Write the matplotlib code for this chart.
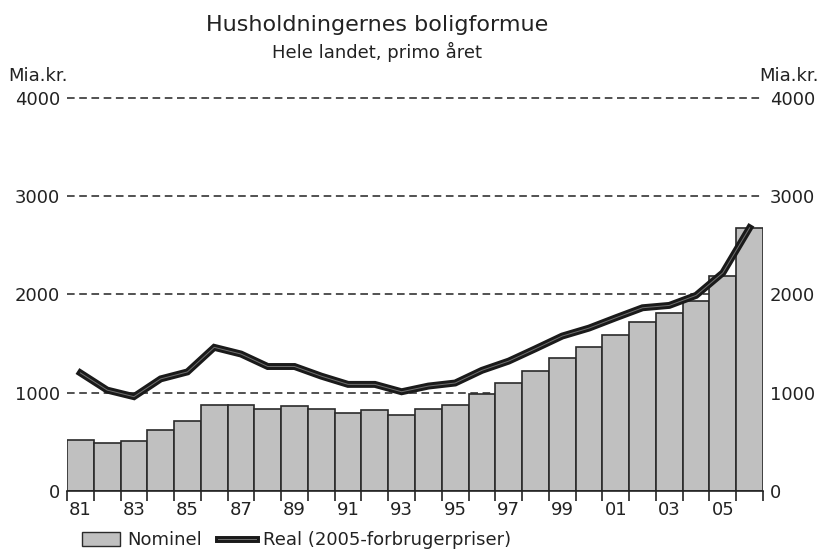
import matplotlib.pyplot as plt
from matplotlib.lines import Line2D
from matplotlib.patches import Patch
from matplotlib.legend_handler import HandlerTuple
import numpy as np

# Data (mia. kr., primo året)
years = list(range(1981, 2007))
nominel = [519, 489, 505, 623, 714, 879, 879, 838, 866, 838, 792, 822, 775,
           831, 878, 990, 1099, 1218, 1353, 1462, 1584, 1719, 1811, 1933,
           2190, 2679]
real = [1202, 1027, 960, 1141, 1212, 1462, 1394, 1267, 1267, 1169, 1085,
        1085, 1010, 1068, 1099, 1228, 1322, 1448, 1577, 1658, 1763, 1865,
        1889, 1991, 2221, 2679]
yticks = [0, 1000, 2000, 3000, 4000]

plt.rcParams['font.family'] = ['DejaVu Sans']
txt = '#222222'
fs = 13

fig = plt.figure(figsize=(8.23, 5.5), dpi=100)
ax = fig.add_axes([0.0814, 0.1073, 0.8457, 0.7145])

x = np.arange(len(years))
ax.bar(x, nominel, width=1.0, color='#c0c0c0', edgecolor='#2a2a2a',
       linewidth=1.2, zorder=2)
ax.plot(x, real, color='#1a1a1a', lw=5, solid_joinstyle='miter', zorder=3)
ax.plot(x, real, color='#707070', lw=0.7, zorder=4)

for v in yticks[1:]:
    ax.axhline(v, color='#222222', lw=1.1, ls=(0, (5, 3)), zorder=1,
               clip_on=False)

ax.set_xlim(-0.5, len(years) - 0.5)
ax.set_ylim(0, 4000)

for side in ['top', 'left', 'right']:
    ax.spines[side].set_visible(False)
ax.spines['bottom'].set_linewidth(1.2)
ax.spines['bottom'].set_color('#222222')

# tick marks at bar edges, labels at every other bar centre
ax.set_xticks(x[::2])
ax.set_xticklabels([f"{y % 100:02d}" for y in years[::2]], fontsize=fs,
                   color=txt)
ax.tick_params(axis='x', which='major', length=0, pad=7)
ax.set_xticks(np.arange(-0.5, len(years)), minor=True)
ax.tick_params(axis='x', which='minor', length=7, width=1.2, color='#222222')

ax.set_yticks(yticks)
ax.set_yticklabels([str(v) for v in yticks], fontsize=fs, color=txt)
ax.tick_params(axis='y', length=0, pad=5, labelright=True, right=False,
               labelcolor=txt)

fig.text(0.458, 0.955, 'Husholdningernes boligformue', ha='center',
         va='center', fontsize=16, color=txt)
fig.text(0.458, 0.905, 'Hele landet, primo året', ha='center', va='center',
         fontsize=13, color=txt)
fig.text(0.01, 0.862, 'Mia.kr.', ha='left', va='center', fontsize=fs,
         color=txt)
fig.text(0.995, 0.862, 'Mia.kr.', ha='right', va='center', fontsize=fs,
         color=txt)

h_bar = Patch(facecolor='#c0c0c0', edgecolor='#2a2a2a', linewidth=1.0)
h_line = (Line2D([], [], color='#1a1a1a', lw=5),
          Line2D([], [], color='#707070', lw=0.7))
leg = fig.legend([h_bar, h_line], ['Nominel', 'Real (2005-forbrugerpriser)'],
                 handler_map={tuple: HandlerTuple(ndivide=1, pad=0)},
                 loc='center left', bbox_to_anchor=(0.091, 0.018), ncol=2,
                 frameon=False, fontsize=fs, handlelength=2.1,
                 handleheight=0.8, handletextpad=0.4, columnspacing=0.9,
                 borderaxespad=0)
for t in leg.get_texts():
    t.set_color(txt)

fig.savefig('out.png', dpi=100)
